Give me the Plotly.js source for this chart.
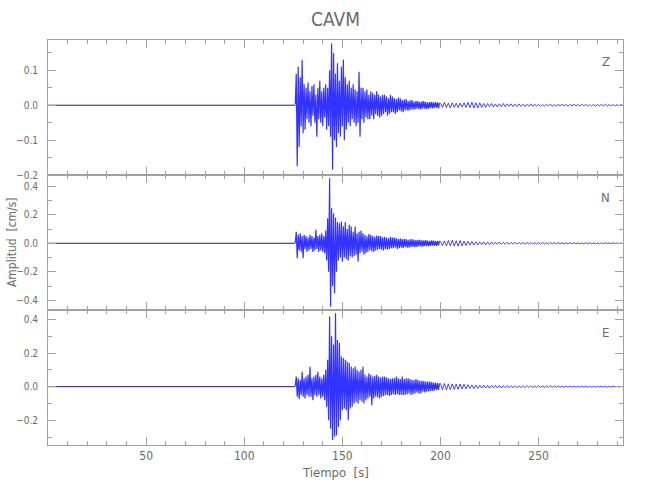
<!DOCTYPE html>
<html>
<head>
<meta charset="utf-8">
<script src="https://cdn.plot.ly/plotly-3.0.1.min.js"></script>
<style>html,body{margin:0;padding:0;background:#fff;}#chart{width:650px;height:500px;}</style>
</head>
<body>
<div id="chart"></div>
<script>
// ---- data ----
var stationName = "CAVM";
var componentNames = ["Z", "N", "E"];
var xTickValues = [50, 100, 150, 200, 250];
var timeRange = [0, 293];

// quiet record before the first arrival (time in s, amplitude in cm/s)
var preTime = [0, 126];
var preZ = [0, 0];
var preN = [0, 0];
var preE = [0, 0];

// strong motion: first sample at 126.0 s, one sample every 0.5 s up to 199.5 s
var strongStart = 126.0;
var strongStep = 0.5;
var strongZ = [
 0.002, 0.09, -0.175, 0.11, -0.12, 0.08, -0.06, 0.13, -0.08, 0.06,
 -0.07, 0.05, -0.04, 0.065, -0.05, 0.04, -0.06, 0.055, -0.03, 0.06,
 -0.05, 0.03, -0.09, 0.05, -0.04, 0.07, -0.05, 0.04, -0.06, 0.05,
 -0.035, 0.06, -0.07, 0.05, -0.06, 0.10, -0.09, 0.177, -0.185, 0.15,
 -0.10, 0.09, -0.12, 0.12, -0.08, 0.07, -0.09, 0.11, -0.06, 0.13,
 -0.10, 0.08, -0.07, 0.06, -0.05, 0.07, -0.06, 0.05, -0.04, 0.06,
 -0.05, 0.045, -0.06, 0.04, -0.05, 0.096, -0.09, 0.05, -0.04, 0.05,
 -0.05, 0.04, -0.035, 0.045, -0.04, 0.03, -0.04, 0.04, -0.03, 0.035,
 -0.04, 0.03, -0.025, 0.04, -0.03, 0.03, -0.035, 0.025, -0.03, 0.03,
 -0.025, 0.03, -0.02, 0.025, -0.03, 0.02, -0.025, 0.03, -0.02, 0.025,
 -0.02, 0.02, -0.025, 0.018, -0.02, 0.022, -0.015, 0.02, -0.018, 0.015,
 -0.02, 0.016, -0.014, 0.018, -0.015, 0.012, -0.016, 0.014, -0.012, 0.015,
 -0.013, 0.01, -0.012, 0.013, -0.01, 0.012, -0.011, 0.01, -0.012, 0.011,
 -0.009, 0.012, -0.01, 0.009, -0.011, 0.008, -0.01, 0.009, -0.008, 0.01,
 -0.009, 0.008, -0.008, 0.009, -0.007, 0.008, -0.009, 0.007
];
var strongN = [
 0.003, 0.08, -0.105, 0.06, -0.05, 0.07, -0.06, 0.05, -0.105, 0.06,
 -0.04, 0.05, -0.06, 0.04, -0.05, 0.06, -0.04, 0.05, -0.06, 0.04,
 -0.05, 0.094, -0.04, 0.05, -0.06, 0.06, -0.05, 0.07, -0.06, 0.05,
 -0.07, 0.09, -0.12, 0.175, -0.20, 0.456, -0.445, 0.245, -0.30, 0.21,
 -0.35, 0.18, -0.20, 0.15, -0.12, 0.14, -0.10, 0.152, -0.13, 0.12,
 -0.10, 0.15, -0.11, 0.10, -0.12, 0.13, -0.09, 0.117, -0.10, 0.08,
 -0.09, 0.117, -0.08, 0.07, -0.129, 0.08, -0.07, 0.09, -0.06, 0.07,
 -0.08, 0.06, -0.07, 0.05, -0.06, 0.065, -0.05, 0.06, -0.055, 0.05,
 -0.06, 0.045, -0.05, 0.055, -0.045, 0.05, -0.04, 0.05, -0.045, 0.04,
 -0.05, 0.045, -0.04, 0.04, -0.045, 0.035, -0.04, 0.045, -0.035, 0.04,
 -0.035, 0.04, -0.03, 0.035, -0.04, 0.03, -0.035, 0.035, -0.03, 0.03,
 -0.035, 0.03, -0.025, 0.03, -0.03, 0.025, -0.03, 0.028, -0.025, 0.03,
 -0.025, 0.025, -0.028, 0.022, -0.025, 0.025, -0.02, 0.024, -0.022, 0.02,
 -0.024, 0.02, -0.018, 0.022, -0.02, 0.018, -0.02, 0.017, -0.018, 0.02,
 -0.016, 0.018, -0.017, 0.015, -0.018, 0.016, -0.015, 0.017
];
var strongE = [
 0.004, 0.06, -0.06, 0.05, -0.075, 0.04, -0.05, 0.089, -0.06, 0.05,
 -0.07, 0.06, -0.05, 0.07, -0.06, 0.119, -0.06, 0.05, -0.08, 0.06,
 -0.05, 0.07, -0.06, 0.089, -0.05, 0.06, -0.07, 0.05, -0.06, 0.07,
 -0.08, 0.10, -0.12, 0.16, -0.20, 0.417, -0.25, 0.30, -0.317, 0.25,
 -0.298, 0.436, -0.29, 0.277, -0.24, 0.26, -0.20, 0.179, -0.139, 0.17,
 -0.13, 0.16, -0.14, 0.15, -0.20, 0.14, -0.13, 0.12, -0.12, 0.11,
 -0.10, 0.12, -0.09, 0.10, -0.10, 0.09, -0.08, 0.10, -0.09, 0.119,
 -0.10, 0.07, -0.08, 0.06, -0.07, 0.08, -0.06, 0.07, -0.11, 0.06,
 -0.07, 0.065, -0.06, 0.07, -0.065, 0.06, -0.07, 0.055, -0.06, 0.06,
 -0.055, 0.06, -0.05, 0.055, -0.05, 0.05, -0.055, 0.045, -0.05, 0.05,
 -0.045, 0.05, -0.05, 0.06, -0.045, 0.05, -0.05, 0.045, -0.05, 0.06,
 -0.05, 0.045, -0.05, 0.05, -0.045, 0.05, -0.04, 0.045, -0.05, 0.04,
 -0.045, 0.04, -0.04, 0.045, -0.035, 0.04, -0.04, 0.035, -0.04, 0.035,
 -0.03, 0.035, -0.035, 0.03, -0.03, 0.03, -0.028, 0.03, -0.025, 0.028,
 -0.025, 0.025, -0.022, 0.025, -0.02, 0.022, -0.02, 0.02
];

// coda: first sample at 200 s, one sample every 1 s up to 293 s
var codaStart = 200;
var codaStep = 1;
var codaZ = [
 0.007, -0.006, 0.008, -0.007, 0.006, -0.008, 0.007, -0.006, 0.006, -0.007,
 0.006, -0.005, 0.007, -0.006, 0.008, -0.007, 0.009, -0.008, 0.007, -0.008,
 0.007, -0.006, 0.005, -0.006, 0.005, -0.004, 0.005, -0.005, 0.004, -0.005,
 0.004, -0.004, 0.005, -0.004, 0.004, -0.003, 0.004, -0.004, 0.003, -0.004,
 0.004, -0.003, 0.003, -0.004, 0.003, -0.003, 0.004, -0.003, 0.003, -0.003,
 0.003, -0.003, 0.002, -0.003, 0.003, -0.002, 0.003, -0.003, 0.002, -0.003,
 0.003, -0.002, 0.003, -0.002, 0.002, -0.003, 0.002, -0.002, 0.003, -0.002,
 0.002, -0.002, 0.003, -0.002, 0.002, -0.002, 0.002, -0.003, 0.002, -0.002,
 0.002, -0.002, 0.002, -0.002, 0.003, -0.002, 0.002, -0.002, 0.002, -0.002,
 0.002, -0.002, 0.002, -0.001
];
var codaN = [
 0.016, -0.015, 0.017, -0.018, 0.02, -0.018, 0.022, -0.02, 0.018, -0.02,
 0.02, -0.018, 0.016, -0.015, 0.014, -0.012, 0.013, -0.012, 0.011, -0.012,
 0.011, -0.01, 0.01, -0.011, 0.009, -0.01, 0.009, -0.008, 0.009, -0.008,
 0.008, -0.007, 0.008, -0.007, 0.007, -0.008, 0.007, -0.006, 0.007, -0.006,
 0.006, -0.007, 0.006, -0.006, 0.005, -0.006, 0.006, -0.005, 0.005, -0.006,
 0.005, -0.005, 0.006, -0.005, 0.004, -0.005, 0.005, -0.004, 0.005, -0.004,
 0.005, -0.004, 0.004, -0.005, 0.004, -0.004, 0.004, -0.004, 0.005, -0.004,
 0.004, -0.004, 0.003, -0.004, 0.004, -0.003, 0.004, -0.004, 0.003, -0.004,
 0.003, -0.004, 0.003, -0.003, 0.004, -0.003, 0.003, -0.003, 0.003, -0.003,
 0.003, -0.003, 0.002, -0.002
];
var codaE = [
 0.02, -0.018, 0.019, -0.02, 0.017, -0.018, 0.016, -0.017, 0.015, -0.016,
 0.016, -0.014, 0.015, -0.013, 0.012, -0.011, 0.01, -0.011, 0.009, -0.01,
 0.009, -0.008, 0.009, -0.008, 0.008, -0.009, 0.008, -0.007, 0.008, -0.007,
 0.007, -0.008, 0.007, -0.006, 0.007, -0.006, 0.006, -0.007, 0.006, -0.006,
 0.005, -0.006, 0.005, -0.005, 0.006, -0.005, 0.005, -0.005, 0.004, -0.005,
 0.005, -0.004, 0.004, -0.005, 0.004, -0.004, 0.005, -0.004, 0.004, -0.004,
 0.004, -0.004, 0.003, -0.004, 0.004, -0.003, 0.004, -0.003, 0.003, -0.004,
 0.003, -0.003, 0.004, -0.003, 0.003, -0.003, 0.003, -0.004, 0.003, -0.003,
 0.003, -0.003, 0.003, -0.002, 0.003, -0.003, 0.002, -0.003, 0.003, -0.002,
 0.002, -0.003, 0.002, -0.002
];

// y-axis ranges and ticks of the three panels
var rangeZ = [-0.2, 0.187];
var rangeN = [-0.468, 0.479];
var rangeE = [-0.347, 0.456];
var ticksZ = [-0.2, -0.1, 0.0, 0.1];
var ticksN = [-0.4, -0.2, 0.0, 0.2, 0.4];
var ticksE = [-0.2, 0.0, 0.2, 0.4];

// ---- drawing ----
var FONT = "DejaVu Sans Condensed, Liberation Sans Narrow, Roboto Condensed, Lato, sans-serif";
var GRAY = "#6a6a6a";
var AXIS = "#a0a0a0";
var BLUE = "rgb(0,0,255)";

var panels = [
  {pre: preZ, strong: strongZ, coda: codaZ, xa: "x", ya: "y"},
  {pre: preN, strong: strongN, coda: codaN, xa: "x2", ya: "y2"},
  {pre: preE, strong: strongE, coda: codaE, xa: "x3", ya: "y3"}
];
var data = [];
panels.forEach(function (p) {
  data.push({type: "scatter", mode: "lines", x: preTime, y: p.pre, xaxis: p.xa, yaxis: p.ya,
             line: {color: "#1a1a8c", width: 1}, hoverinfo: "skip", showlegend: false});
  data.push({type: "scatter", mode: "lines", x0: strongStart, dx: strongStep, y: p.strong,
             xaxis: p.xa, yaxis: p.ya, line: {color: BLUE, width: 1.2}, opacity: 0.8,
             hoverinfo: "skip", showlegend: false});
  data.push({type: "scatter", mode: "lines", x0: codaStart, dx: codaStep, y: p.coda,
             xaxis: p.xa, yaxis: p.ya, line: {color: BLUE, width: 0.8}, opacity: 0.9,
             hoverinfo: "skip", showlegend: false});
});

function xAxis(anchor, showLabels) {
  return {
    anchor: anchor, range: timeRange, tickmode: "array", tickvals: xTickValues,
    ticktext: xTickValues.map(String), showticklabels: showLabels,
    ticks: "inside", ticklen: 8, tickwidth: 1, tickcolor: AXIS,
    minor: {dtick: 10, tick0: 0, ticks: "inside", ticklen: 4, tickcolor: AXIS, showgrid: false},
    showline: true, linecolor: AXIS, linewidth: 1, mirror: "ticks",
    showgrid: false, zeroline: false, fixedrange: true,
    tickfont: {family: FONT, size: 12, color: GRAY}
  };
}
function yAxis(domain, range, vals, minorStep) {
  return {
    domain: domain, range: range, tickmode: "array", tickvals: vals,
    ticktext: vals.map(function (v) { return (v < 0 ? "\u2212" : "") + Math.abs(v).toFixed(1); }),
    ticks: "inside", ticklen: 8, tickwidth: 1, tickcolor: AXIS,
    minor: {dtick: minorStep, tick0: 0, ticks: "inside", ticklen: 4, tickcolor: AXIS, showgrid: false},
    showline: true, linecolor: AXIS, linewidth: 1, mirror: "ticks",
    showgrid: false, zeroline: false, fixedrange: true, ticklabelstandoff: 7,
    tickfont: {family: FONT, size: 10, color: GRAY}
  };
}

var layout = {
  width: 650, height: 500,
  margin: {l: 48, r: 27, t: 40, b: 55, pad: 0},
  paper_bgcolor: "#ffffff", plot_bgcolor: "#ffffff",
  showlegend: false,
  title: {text: stationName, x: 0.5, xref: "paper", y: 0.962, yref: "container",
          xanchor: "center", yanchor: "middle", font: {family: FONT, size: 19, color: GRAY}},
  xaxis: xAxis("y", false),
  xaxis2: xAxis("y2", false),
  xaxis3: xAxis("y3", true),
  yaxis: yAxis([2/3, 1], rangeZ, ticksZ, 0.05),
  yaxis2: yAxis([1/3, 2/3], rangeN, ticksN, 0.1),
  yaxis3: yAxis([0, 1/3], rangeE, ticksE, 0.1),
  annotations: [
    {text: componentNames[0], xref: "paper", yref: "paper", x: 0.970, y: 0.946, showarrow: false,
     xanchor: "center", yanchor: "middle", font: {family: FONT, size: 13, color: GRAY}},
    {text: componentNames[1], xref: "paper", yref: "paper", x: 0.970, y: 0.612, showarrow: false,
     xanchor: "center", yanchor: "middle", font: {family: FONT, size: 13, color: GRAY}},
    {text: componentNames[2], xref: "paper", yref: "paper", x: 0.970, y: 0.279, showarrow: false,
     xanchor: "center", yanchor: "middle", font: {family: FONT, size: 13, color: GRAY}},
    {text: "Amplitud  [cm/s]", xref: "paper", yref: "paper", x: -0.0626, y: 0.501, textangle: -90,
     showarrow: false, xanchor: "center", yanchor: "middle", font: {family: FONT, size: 12, color: GRAY}},
    {text: "Tiempo  [s]", xref: "paper", yref: "paper", x: 0.50, y: -0.0667, showarrow: false,
     xanchor: "center", yanchor: "middle", font: {family: FONT, size: 13, color: GRAY}}
  ]
};

Plotly.newPlot("chart", data, layout, {displayModeBar: false, staticPlot: true});
</script>
</body>
</html>
